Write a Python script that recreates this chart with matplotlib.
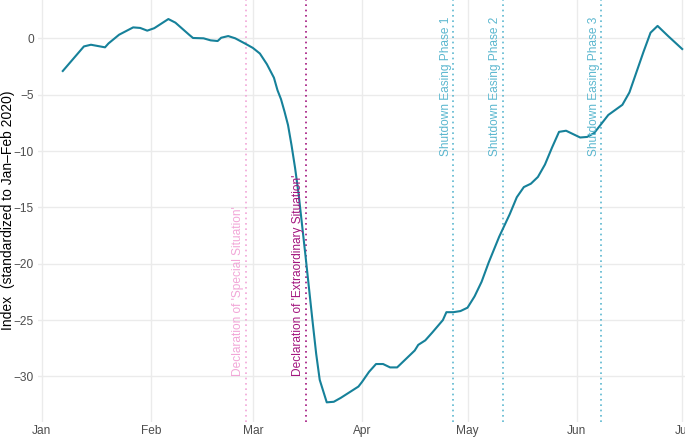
import pandas as pd
import matplotlib
matplotlib.use("Agg")
import matplotlib.pyplot as plt
import matplotlib.dates as mdates

plt.rcParams["font.family"] = ["Liberation Sans", "DejaVu Sans"]

# days after 1 Jan 2020 and index values
day_offsets = [6, 12, 14, 18, 19, 22, 26, 28, 30, 32, 36, 38, 42, 43, 46, 48, 50, 51, 53, 55,
               58, 60, 62, 64, 66, 67, 68, 69, 70, 71, 72, 73, 74, 75, 76, 77, 78, 79, 80, 81, 83,
               85, 88, 90, 91, 93, 95, 97, 99, 101, 103, 106, 107, 109, 111, 114, 115, 117, 119,
               121, 123, 125, 127, 130, 133, 135, 137, 139, 141, 143, 145, 147, 149, 151, 153,
               155, 157, 159, 161, 165, 167, 169, 171, 173, 175, 178, 182]
index_values = [-2.9, -0.72, -0.57, -0.8, -0.45, 0.32, 0.97, 0.92, 0.68, 0.9, 1.71, 1.39, 0.29,
                0.03, 0.0, -0.18, -0.24, 0.05, 0.2, 0.0, -0.5, -0.85, -1.35, -2.3, -3.5, -4.6,
                -5.4, -6.5, -7.7, -9.5, -11.5, -13.8, -16.6, -19.4, -22.3, -25.2, -28.0, -30.3,
                -31.3, -32.3, -32.25, -31.9, -31.3, -30.9, -30.5, -29.6, -28.9, -28.9, -29.2,
                -29.2, -28.6, -27.7, -27.2, -26.8, -26.1, -25.0, -24.3, -24.3, -24.2, -23.9,
                -22.9, -21.6, -19.9, -17.6, -15.6, -14.1, -13.2, -12.9, -12.3, -11.2, -9.7,
                -8.3, -8.2, -8.5, -8.8, -8.75, -8.4, -7.6, -6.8, -5.9, -4.8, -3.0, -1.2, 0.5,
                1.1, 0.2, -0.95]

event_dates = ["2020-02-28", "2020-03-16", "2020-04-27", "2020-05-11", "2020-06-08"]
event_labels = ["Declaration of 'Special Situation'", "Declaration of 'Extraordinary Situation'",
                "Shutdown Easing Phase 1", "Shutdown Easing Phase 2", "Shutdown Easing Phase 3"]
event_colors = ["#F2A7D8", "#A3157F", "#5BB7CF", "#5BB7CF", "#5BB7CF"]
event_label_y = [-30.0, -30.0, -10.4, -10.4, -10.4]

start = pd.Timestamp("2020-01-01")
dates = [start + pd.Timedelta(days=d) for d in day_offsets]

fig = plt.figure(figsize=(6.85, 4.38), dpi=100)
ax = fig.add_axes([38 / 685, 16.5 / 438, 647 / 685, 421.5 / 438])

ax.plot(dates, index_values, color="#16819A", lw=1.5, zorder=3)

for d, lab, col, ly in zip(event_dates, event_labels, event_colors, event_label_y):
    x = pd.Timestamp(d)
    ax.axvline(x, color=col, ls=(0, (1, 2.2)), lw=1.2, zorder=2)
    ax.text(x - pd.Timedelta(hours=10), ly, lab, rotation=90, ha="right", va="bottom",
            color=col, fontsize=8.6)

ax.set_xlim(start - pd.Timedelta(hours=25), start + pd.Timedelta(hours=int(182.8 * 24)))
ax.set_ylim(-34.0, 3.4)
ax.set_yticks([0, -5, -10, -15, -20, -25, -30])
ax.set_yticklabels(["0", "\u22125", "\u221210", "\u221215", "\u221220", "\u221225", "\u221230"])
ax.xaxis.set_major_locator(mdates.MonthLocator())
ax.xaxis.set_major_formatter(mdates.DateFormatter("%b"))

ax.grid(True, color="#EBEBEB", lw=1.0)
ax.set_axisbelow(True)
for s in ax.spines.values():
    s.set_visible(False)
ax.tick_params(length=0, labelsize=8.6, labelcolor="#4D4D4D")
ax.tick_params(axis="y", pad=3)
ax.tick_params(axis="x", pad=2.5)

ax.set_ylabel("Index  (standardized to Jan\u2013Feb 2020)", fontsize=10, color="black")
ax.yaxis.set_label_coords(-0.036, 0.5)

fig.savefig("out.png", dpi=100)
